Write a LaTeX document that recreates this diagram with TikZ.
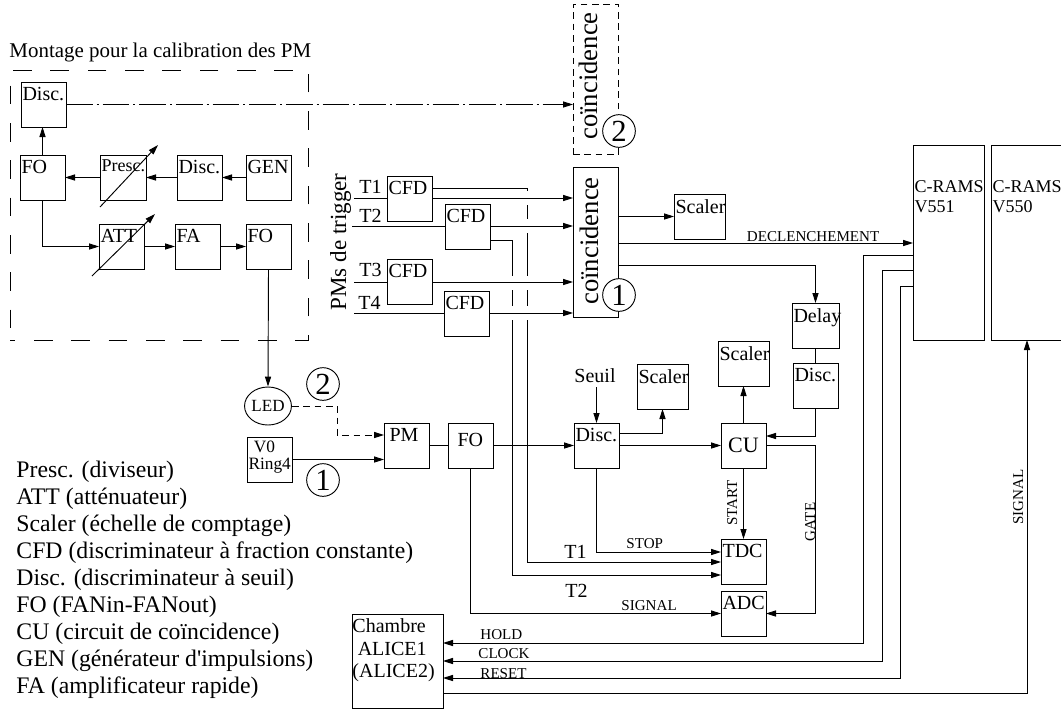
\documentclass[tikz,border=0pt]{standalone}
\usepackage{fontspec}
\setmainfont{Liberation Serif}
\usetikzlibrary{arrows.meta,calc,shapes.geometric}
\newcommand{\taille}[1]{\fontsize{#1}{#1}\selectfont}
\begin{document}
\begin{tikzpicture}[
		x=0.75pt,
		y=-0.75pt,
		line width=0.7pt,
		boite/.style={
			draw, rectangle, anchor=north west,
			minimum width=33.75pt,
			minimum height=33.75pt,
			inner sep=0pt, outer sep=0pt,
			font=\taille{15}
		},
		etiq/.style={anchor=north west, inner xsep=0.8pt, inner ysep=3.5pt, font=\taille{15}, align=left},
		petit/.style={anchor=base west, inner sep=0pt, font=\taille{11.3}},
		texte/.style={anchor=base west, inner sep=0pt, font=\taille{15}},
		vertical/.style={anchor=base, rotate=90, inner sep=0pt},
		cercle/.style={draw, circle, fill=white, minimum size=24.5pt, inner sep=0pt, font=\taille{23}},
		fl/.style={-{Triangle[length=7.5pt,width=4.6pt]}},
		tirets/.style={dash pattern=on 5pt off 3.5pt}
		]
		\useasboundingbox (0,0) rectangle (1061,708);
		
		% montage de calibration
		\node[anchor=base west, inner sep=0pt, font=\taille{15.7}] (titre) at (9,57) {Montage pour la calibration des PM};
		\node[boite, dash pattern=on 14pt off 14pt, dash phase=10pt, minimum width=223.5pt, minimum height=203.2pt] (cadre) at (10,70) {};
		\node[boite, label={[etiq]north west:Disc.}] (disc0) at (21,82) {};
		\node[boite, label={[etiq]north west:FO}] (fo0) at (20,155) {};
		\node[boite, minimum width=34.5pt, label={[etiq,font=\taille{13.5}]north west:Presc.}] (presc) at (100,155) {};
		\node[boite, label={[etiq]north west:Disc.}] (disc1) at (177,155) {};
		\node[boite, label={[etiq]north west:GEN}] (gen) at (246,155) {};
		\node[boite, label={[etiq]north west:ATT}] (att) at (99,224) {};
		\node[boite, label={[etiq]north west:FA}] (fa) at (175,224) {};
		\node[boite, label={[etiq]north west:FO}] (fo1) at (246,224) {};
		
		\draw[fl] (fo0.north) -- (fo0.north |- disc0.south);
		\draw[fl] (gen.west) -- (disc1.east);
		\draw[fl] (disc1.west) -- (presc.east);
		\draw[fl] (presc.west) -- (fo0.east);
		\draw[fl] (fo0.south) |- (att.west);
		\draw[fl] (att.east) -- (fa.west);
		\draw[fl] (fa.east) -- (fo1.west);
		\draw[fl] ($(presc.south west)+(0,7)$) -- ($(presc.north east)+(12,-10)$);
		\draw[fl] ($(att.south west)+(-7,7)$) -- ($(att.north east)+(11,-10)$);
		
		% coincidences
		\node[boite, tirets, minimum height=113.2pt] (coinc2) at (573,4) {};
		\node[boite, minimum height=113.2pt] (coinc1) at (573,167) {};
		\node[vertical, font=\taille{20}] (txtc2) at (597,76) {coïncidence};
		\node[vertical, font=\taille{20}] (txtc1) at (598,241) {coïncidence};
		\node[cercle] (cerc2) at (619,131) {2};
		\node[cercle] (cerc1) at (619,295) {1};
		\draw[fl, dash pattern=on 20pt off 3pt on 1.5pt off 3pt] (disc0.east) -- (coinc2.west |- disc0.east);
		
		% PMs de trigger
		\node[vertical, font=\taille{17.3}] (pmtrig) at (346,242) {PMs de trigger};
		\node[texte] (t1) at (359,193) {T1};
		\node[texte] (t2) at (359,222) {T2};
		\node[texte] (t3) at (359,276) {T3};
		\node[texte] (t4) at (358,309) {T4};
		\node[boite, label={[etiq]north west:CFD}] (cfd1) at (387,176) {};
		\node[boite, label={[etiq]north west:CFD}] (cfd2) at (445,204) {};
		\node[boite, label={[etiq]north west:CFD}] (cfd3) at (387,259) {};
		\node[boite, label={[etiq]north west:CFD}] (cfd4) at (444,291) {};
		
		% voies T1 et T2
		\draw (cfd1.east |- 0,188) -- (527,188) -- (527,490);
		\draw (cfd2.east |- 0,240) -- (512,240) -- (512,490);
		\foreach \yc in {198,226,283,313} {
			\fill[white] (520,\yc-7) rectangle (534,\yc+7);
		}
		\foreach \yc in {283,313} {
			\fill[white] (505,\yc-7) rectangle (519,\yc+7);
		}
		\draw[fl] (527,490) |- (721,562);
		\draw[fl] (512,490) |- (721,575);
		
		\draw (354,198) -- (cfd1.west |- 0,198);
		\draw[fl] (cfd1.east |- 0,198) -- (coinc1.west |- 0,198);
		\draw (352,226) -- (cfd2.west |- 0,226);
		\draw[fl] (cfd2.east |- 0,226) -- (coinc1.west |- 0,226);
		\draw (354,282) -- (cfd3.west |- 0,282);
		\draw[fl] (cfd3.east |- 0,282) -- (coinc1.west |- 0,282);
		\draw (354,313) -- (cfd4.west |- 0,313);
		\draw[fl] (cfd4.east |- 0,313) -- (coinc1.west |- 0,313);
		
		% sorties de la coincidence
		\node[boite, minimum width=38.25pt, label={[etiq]north west:Scaler}] (scaler0) at (674,194) {};
		\node[boite, minimum width=53.25pt, minimum height=146.25pt, label={[etiq,font=\fontsize{13.5}{15}\selectfont,inner ysep=0pt,yshift=-26.2pt]north west:{C-RAMS\\V551}}] (cr551) at (913,145) {};
		\node[boite, minimum width=54pt, minimum height=146.25pt, label={[etiq,font=\fontsize{13.5}{15}\selectfont,inner ysep=0pt,yshift=-26.2pt]north west:{C-RAMS\\V550}}] (cr550) at (991,145) {};
		\node[boite, minimum width=35.25pt, label={[etiq]north west:Delay}] (delay) at (792,303) {};
		\node[boite, label={[etiq]north west:Disc.}] (disc3) at (793,363) {};
		\node[petit] (declench) at (746.5,241.5) {DECLENCHEMENT};
		\draw[fl] (coinc1.east |- scaler0.west) -- (scaler0.west);
		\draw[fl] (coinc1.east |- 0,243) -- (cr551.west |- 0,243);
		\draw[fl] (coinc1.east |- 0,265) -| (delay.north);
		\draw (delay.south) -- (disc3.north);
		
		% V0 et PM
		\node[draw, ellipse, minimum width=31.5pt, minimum height=28.5pt, inner sep=0pt, font=\taille{12.8}] (led) at (268,406) {LED};
		\node[cercle] (cercB) at (323,384) {2};
		\node[cercle] (cercA) at (323,480) {1};
		\node[boite, label={[etiq,inner ysep=2.5pt,font=\taille{13}]north west:{\hspace*{4pt}V0\\Ring4}}] (v0) at (247,437) {};
		\node[boite, label={[etiq,xshift=3pt]north west:PM}] (pm) at (384,423) {};
		\node[boite, label={[etiq,xshift=6pt,inner ysep=7.5pt]north west:FO}] (fo2) at (448,423) {};
		\draw[fl] (fo1.south) -- (led.north);
		\draw[fl, tirets] (led.east) -- (337,406) |- (pm.west |- 0,435);
		\draw[fl] (v0.east) -- (pm.west |- v0.east);
		\draw (pm.east) -- (fo2.west);
		
		% discriminateur et TDC
		\node[texte] (seuil) at (574,382) {Seuil};
		\node[boite, minimum width=38.25pt, label={[etiq]north west:Scaler}] (scaler1) at (637,364) {};
		\node[boite, minimum width=38.25pt, label={[etiq]north west:Scaler}] (scaler2) at (718,341) {};
		\node[boite, label={[etiq]north west:Disc.}] (disc2) at (574,423) {};
		\node[boite, font=\taille{16.5}] (cu) at (721,423) {CU};
		\node[boite, label={[etiq]north west:TDC}] (tdc) at (721,539) {};
		\node[boite, label={[etiq]north west:ADC}] (adc) at (721,591) {};
		\draw[fl] (fo2.east) -- (disc2.west);
		\draw[fl] (disc2.north |- 0,387) -- (disc2.north);
		\draw[fl] (disc2.east |- 0,433) -| (scaler1.south);
		\draw[fl] (disc2.east) -- (cu.west);
		\draw[fl] (cu.north) -- (scaler2.south -| cu.north);
		\draw[fl] (disc3.south) |- (cu.east |- 0,436);
		\draw[fl] (cu.south) -- (tdc.north);
		\draw[fl] (disc2.south) |- (tdc.west |- 0,552);
		\draw[fl] (fo2.south) |- (adc.west);
		\draw[fl] (cu.east) -- ++(49,0) |- (adc.east);
		\node[petit] (stoplab) at (626,548) {STOP};
		\node[petit] (siglab) at (621,610) {SIGNAL};
		\node[petit, vertical] (startlab) at (737,503) {START};
		\node[petit, vertical] (gatelab) at (815,522) {GATE};
		\node[texte] (t1bis) at (564,558) {T1};
		\node[texte] (t2bis) at (565,597) {T2};
		
		% chambre ALICE
		\node[boite, minimum width=68.25pt, minimum height=70.5pt, label={[etiq,inner xsep=0pt,inner ysep=3pt,font=\fontsize{15}{17}\selectfont]north west:{Chambre\\\hspace*{4pt}ALICE1\\(ALICE2)}}] (chambre) at (352,614) {};
		\draw[fl] (cr551.west |- 0,255) -- (863,255) |- (chambre.east |- 0,643);
		\draw[fl] (cr551.west |- 0,270) -- (882,270) |- (chambre.east |- 0,661);
		\draw[fl] (cr551.west |- 0,286) -- (900,286) |- (chambre.east |- 0,678);
		\draw[fl] (chambre.east |- 0,693) -| (cr550.south -| 1027,0);
		\node[petit] (holdlab) at (480,639) {HOLD};
		\node[petit] (clocklab) at (478,658) {CLOCK};
		\node[petit] (resetlab) at (480,678) {RESET};
		\node[petit, vertical] (signallab) at (1023,497) {SIGNAL};
		
		% legende
		\node[anchor=north west, inner sep=0pt, align=left, font=\fontsize{17.8}{20.2}\selectfont] (legende) at (16,461) {Presc. (diviseur)\\
			ATT (atténuateur)\\
			Scaler (échelle de comptage)\\
			CFD (discriminateur à fraction constante)\\
			Disc. (discriminateur à seuil)\\
			FO (FANin-FANout)\\
			CU (circuit de coïncidence)\\
			GEN (générateur d\textquotesingle impulsions)\\
			FA (amplificateur rapide)};
	\end{tikzpicture}
\end{document}
